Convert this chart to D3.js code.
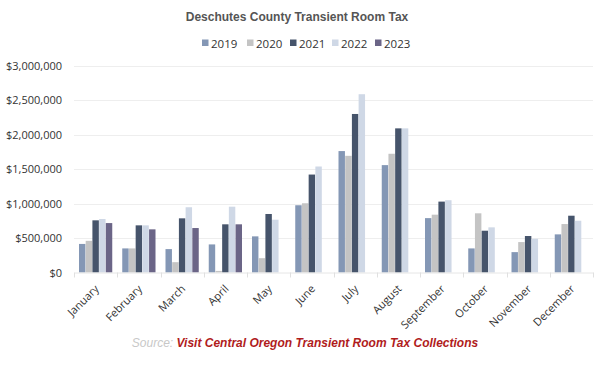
<html>
<head>
<meta charset="utf-8"/>
<script src="https://d3js.org/d3.v7.min.js"></script>
<style>
  body { margin:0; background:#fff; }
  text { font-family: "Open Sans", "DejaVu Sans", sans-serif; }
</style>
</head>
<body>
<script>
var months = ["January","February","March","April","May","June","July","August","September","October","November","December"];
var years = ["2019","2020","2021","2022","2023"];
var colors = ["#8497b5","#c4c4c4","#46546b","#cfd8e6","#6b6587"];

// values in dollars, null = no data
var v2019 = [415000,350000,340000,408000,525000,977000,1764000,1560000,790000,350000,296000,554000];
var v2020 = [460000,350000,150000,23000,208000,1006000,1695000,1725000,840000,860000,442000,704000];
var v2021 = [758000,685000,787000,700000,850000,1423000,2303000,2094000,1030000,607000,530000,825000];
var v2022 = [777000,685000,948000,956000,767000,1540000,2590000,2094000,1050000,656000,490000,752000];
var v2023 = [718000,627000,646000,700000,null,null,null,null,null,null,null,null];
var yTicks = [0,500000,1000000,1500000,2000000,2500000,3000000];

var series = [v2019,v2020,v2021,v2022,v2023];

var width=595, height=366;
var svg=d3.select("body").append("svg").attr("width",width).attr("height",height);

var pLeft=74, pRight=593, pTop=66, pBottom=272.5;

var x0=d3.scaleBand().domain(months).range([pLeft,pRight]);
var x1=d3.scaleBand().domain(years).range([5,x0.bandwidth()-5]).paddingInner(0.04);
var y=d3.scaleLinear().domain([0,3000000]).range([pBottom,pTop]);

// title
svg.append("text").attr("x",297).attr("y",21).attr("text-anchor","middle")
   .style("font-family","'Liberation Sans', Arial, sans-serif")
   .style("font-weight","bold").style("font-size","12px").attr("fill","#555")
   .text("Deschutes County Transient Room Tax");

// legend
var legX=[202,247,290,332,375];
var leg=svg.append("g");
years.forEach(function(yr,i){
  leg.append("rect").attr("x",legX[i]).attr("y",39.5).attr("width",6.5).attr("height",6.5).attr("fill",colors[i]);
  leg.append("text").attr("x",legX[i]+9).attr("y",47.5).style("font-size","11.5px").attr("fill","#333").text(yr);
});

// grid
svg.append("g").selectAll("line").data(yTicks.slice(1)).enter().append("line")
  .attr("x1",pLeft).attr("x2",pRight).attr("y1",function(d){return Math.round(y(d))+0.5;})
  .attr("y2",function(d){return Math.round(y(d))+0.5;})
  .attr("stroke","#eeeeee").attr("stroke-width",1);

// y labels
var fmt=d3.format(",");
svg.append("g").selectAll("text").data(yTicks).enter().append("text")
  .attr("x",62).attr("y",function(d){return y(d)+4;}).attr("text-anchor","end")
  .style("font-size","11px").attr("fill","#333")
  .text(function(d){return "$"+fmt(d);});

// bars
var groups=svg.append("g").selectAll("g").data(months).enter().append("g")
  .attr("transform",function(d){return "translate("+x0(d)+",0)";});
groups.selectAll("rect").data(function(m,mi){
    return years.map(function(yr,si){return {yr:yr,si:si,v:series[si][mi]};}).filter(function(d){return d.v!=null;});
  }).enter().append("rect")
  .attr("x",function(d){return x1(d.yr);})
  .attr("width",x1.bandwidth())
  .attr("y",function(d){return y(d.v);})
  .attr("height",function(d){return pBottom-y(d.v);})
  .attr("fill",function(d){return colors[d.si];});

// x axis
var xAxis=d3.axisBottom(x0).tickSize(0).tickPadding(0);
var ax=svg.append("g").attr("transform","translate(0,"+pBottom+")").call(xAxis);
ax.select(".domain").attr("stroke","#e6e6e6");
ax.selectAll(".tick text").remove();
// boundary ticks
var bounds=months.map(function(m){return x0(m);}).concat([pRight]);
svg.append("g").selectAll("line").data(bounds).enter().append("line")
  .attr("x1",function(d){return Math.round(d)+0.5;}).attr("x2",function(d){return Math.round(d)+0.5;})
  .attr("y1",pBottom).attr("y2",pBottom+5).attr("stroke","#e0e0e0");
svg.append("g").selectAll("text").data(months).enter().append("text")
  .attr("transform",function(d){return "translate("+(x0(d)+x0.bandwidth()/2+4)+","+(pBottom+17)+") rotate(-45)";})
  .attr("text-anchor","end").style("font-size","11px").attr("fill","#333")
  .text(function(d){return d;});

// source
var src=svg.append("text").attr("x",305).attr("y",347).attr("text-anchor","middle")
  .style("font-family","'Liberation Sans', Arial, sans-serif").style("font-style","italic").style("font-size","12px");
src.append("tspan").attr("fill","#c8c8c8").text("Source: ");
src.append("tspan").attr("fill","#b01c1c").style("font-weight","bold").text("Visit Central Oregon Transient Room Tax Collections");
</script>
</body>
</html>
